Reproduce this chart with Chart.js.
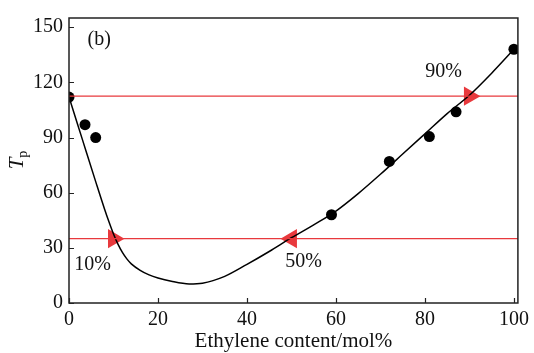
<!DOCTYPE html>
<html>
<head>
<meta charset="utf-8">
<script src="https://cdn.jsdelivr.net/npm/chart.js@4/dist/chart.umd.min.js"></script>
<style>
  html, body { margin: 0; padding: 0; background: #fff; }
  #wrap { width: 534px; height: 353px; }
</style>
</head>
<body>
<div id="wrap"><canvas id="grafico" width="534" height="353"></canvas></div>
<script>
// dados medidos
var amostraX = [0, 3.6, 6, 59, 72, 81, 87, 100];
var amostraY = [112, 97, 90, 48, 77, 90.5, 104, 138];

// curva ajustada
var curvaX = [0, 3, 6, 8, 9, 10, 11, 12, 13, 14, 16, 18, 20, 23, 27, 30, 35, 40, 45, 50, 55, 60, 65, 70, 75, 80, 85, 90, 95, 100];
var curvaY = [112, 89, 66, 51, 44, 37.5, 32, 27.5, 24, 21.3, 17.8, 15.3, 13.6, 11.8, 10.4, 10.8, 14.5, 21, 28, 35.5, 42.5, 50, 59.5, 70, 81, 92, 103, 113, 125, 138];

// linhas de referencia 10% e 90%
var linhaBaixa = 35;
var linhaAlta = 112.5;

// marcadores (triangulos)
var marcX = [10, 50, 90];
var marcY = [35, 35, 112.5];
var marcRot = [90, -90, 90];

var xTicks = [0, 20, 40, 60, 80, 100];
var yTicks = [0, 30, 60, 90, 120, 150];
var xMax = 100.9;
var yMax = 155;

// textos
var rotulos = [
    { txt: '(b)', x: 6.8, y: 143 },
    { txt: '10%', x: 5.3, y: 21 },
    { txt: '50%', x: 52.7, y: 22.6 },
    { txt: '90%', x: 84.2, y: 126 }
];

var fonte = '"Liberation Serif", "Times New Roman", serif';
var vermelho = '#e8393d';

function pares(xs, ys) {
    return xs.map(function(v, i) { return { x: v, y: ys[i] }; });
}

var moldura = {
    id: 'moldura',
    afterDraw: function(chart) {
        var ctx = chart.ctx;
        var a = chart.chartArea;
        var sx = chart.scales.x, sy = chart.scales.y;
        ctx.save();
        ctx.strokeStyle = '#222';
        ctx.lineWidth = 1.5;
        ctx.strokeRect(a.left, a.top, a.right - a.left, a.bottom - a.top);
        ctx.lineWidth = 1.2;
        ctx.beginPath();
        xTicks.forEach(function(v) {
            var px = Math.round(sx.getPixelForValue(v)) + 0.5;
            ctx.moveTo(px, a.bottom);
            ctx.lineTo(px, a.bottom - 5);
        });
        yTicks.forEach(function(v) {
            var py = Math.round(sy.getPixelForValue(v)) + 0.5;
            ctx.moveTo(a.left, py);
            ctx.lineTo(a.left + 5, py);
        });
        ctx.stroke();

        // textos internos
        ctx.fillStyle = '#111';
        ctx.font = '20px ' + fonte;
        ctx.textAlign = 'center';
        ctx.textBaseline = 'middle';
        rotulos.forEach(function(r) {
            ctx.fillText(r.txt, sx.getPixelForValue(r.x), sy.getPixelForValue(r.y));
        });

        // titulo do eixo y: T_p
        ctx.translate(23, 160);
        ctx.rotate(-Math.PI / 2);
        ctx.textAlign = 'left';
        ctx.textBaseline = 'alphabetic';
        ctx.font = 'italic 21px ' + fonte;
        var wT = ctx.measureText('T').width;
        ctx.font = '14px ' + fonte;
        var wp = ctx.measureText('p').width;
        var x0 = -(wT + wp) / 2;
        ctx.font = 'italic 21px ' + fonte;
        ctx.fillText('T', x0, 0);
        ctx.font = '14px ' + fonte;
        ctx.fillText('p', x0 + wT, 4);
        ctx.restore();
    }
};

var ctx = document.getElementById('grafico').getContext('2d');
new Chart(ctx, {
    type: 'scatter',
    data: {
        datasets: [
            {
                label: '90%',
                type: 'line',
                data: [{ x: 0, y: linhaAlta }, { x: xMax, y: linhaAlta }],
                borderColor: vermelho,
                borderWidth: 1.2,
                pointRadius: 0
            },
            {
                label: '10%',
                type: 'line',
                data: [{ x: 0, y: linhaBaixa }, { x: xMax, y: linhaBaixa }],
                borderColor: vermelho,
                borderWidth: 1.2,
                pointRadius: 0
            },
            {
                label: 'curva',
                type: 'line',
                data: pares(curvaX, curvaY),
                borderColor: '#000',
                borderWidth: 1.5,
                pointRadius: 0,
                cubicInterpolationMode: 'monotone'
            },
            {
                label: 'marcadores',
                data: pares(marcX, marcY),
                pointStyle: 'triangle',
                pointRotation: marcRot,
                pointRadius: 11,
                backgroundColor: vermelho,
                borderColor: vermelho,
                borderWidth: 0
            },
            {
                label: 'amostras',
                data: pares(amostraX, amostraY),
                pointRadius: 5.5,
                backgroundColor: '#000',
                borderColor: '#000',
                borderWidth: 0
            }
        ]
    },
    options: {
        responsive: false,
        animation: false,
        layout: { padding: { top: 10, right: 11, left: 0, bottom: 0 } },
        plugins: {
            legend: { display: false },
            tooltip: { enabled: false }
        },
        scales: {
            x: {
                type: 'linear',
                min: 0,
                max: xMax,
                grid: { display: false, drawTicks: false },
                border: { display: false },
                afterBuildTicks: function(s) { s.ticks = xTicks.map(function(v) { return { value: v }; }); },
                afterFit: function(s) { s.height = 50; },
                ticks: {
                    color: '#111',
                    font: { family: fonte, size: 20 },
                    padding: 5,
                    maxRotation: 0
                },
                title: {
                    display: true,
                    text: 'Ethylene content/mol%',
                    color: '#111',
                    font: { family: fonte, size: 21 },
                    padding: { top: 0, bottom: -1 }
                }
            },
            y: {
                type: 'linear',
                min: 0,
                max: yMax,
                grid: { display: false, drawTicks: false },
                border: { display: false },
                afterBuildTicks: function(s) { s.ticks = yTicks.map(function(v) { return { value: v }; }); },
                afterFit: function(s) { s.width = 69; },
                ticks: {
                    color: '#111',
                    font: { family: fonte, size: 20 },
                    padding: 6
                }
            }
        }
    },
    plugins: [moldura]
});
</script>
</body>
</html>
